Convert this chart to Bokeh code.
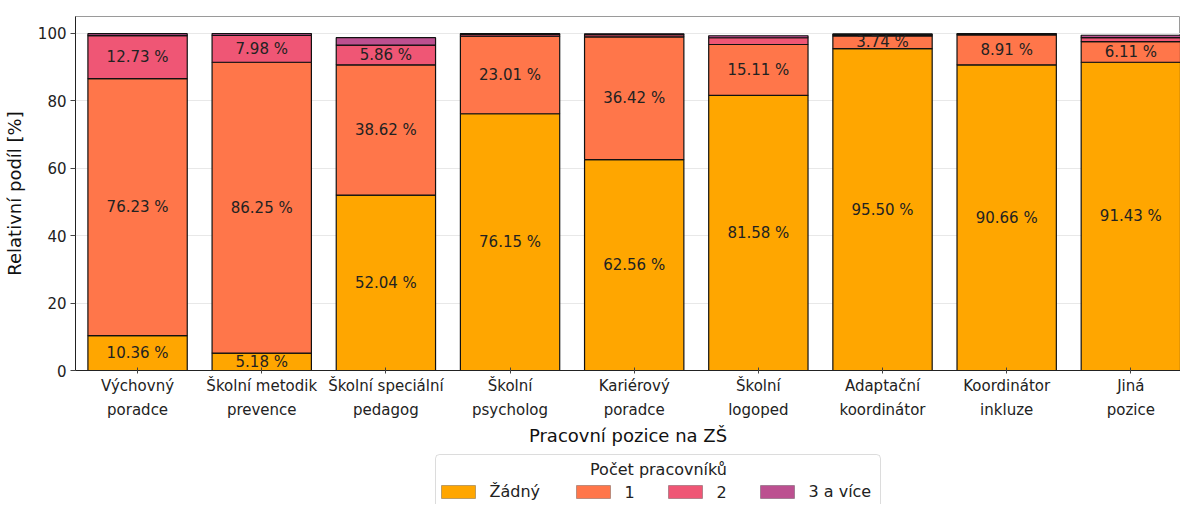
from bokeh.plotting import figure
from bokeh.models import (ColumnDataSource, FixedTicker, Range1d, BoxAnnotation, Label)
from bokeh.layouts import column
from bokeh.embed import file_html
from bokeh.resources import INLINE
from bokeh.core.properties import value

# ---- data ----
categories = ["Výchovný\nporadce", "Školní metodik\nprevence", "Školní speciální\npedagog",
              "Školní\npsycholog", "Kariérový\nporadce", "Školní\nlogoped",
              "Adaptační\nkoordinátor", "Koordinátor\ninkluze", "Jiná\npozice"]
zadny = [10.36, 5.18, 52.04, 76.15, 62.56, 81.58, 95.50, 90.66, 91.43]
jeden = [76.23, 86.25, 38.62, 23.01, 36.42, 15.11, 3.74, 8.91, 6.11]
dva = [12.73, 7.98, 5.86, 0.55, 0.60, 2.00, 0.40, 0.25, 1.20]
tri = [0.60, 0.55, 2.20, 0.20, 0.30, 0.60, 0.20, 0.10, 0.70]
series_names = ["Žádný", "1", "2", "3 a více"]
legend_title = "Počet pracovníků"
colors = ["#ffa600", "#ff764a", "#ef5675", "#bc5090"]
y_ticks = [0, 20, 40, 60, 80, 100]
label_min = 3.0

FONT = "DejaVu Sans"
W = 1180
xs = list(range(len(categories)))
keys = ["s0", "s1", "s2", "s3"]
series = [zadny, jeden, dva, tri]
src = ColumnDataSource(dict(x=xs, s0=zadny, s1=jeden, s2=dva, s3=tri))

# label positions (segment centers) computed from data
lx, ly, lt = [], [], []
for i in xs:
    bottom = 0.0
    for s in series:
        v = s[i]
        if v >= label_min:
            lx.append(i)
            ly.append(bottom + v / 2)
            lt.append(f"{v:.2f} %")
        bottom += v
lsrc = ColumnDataSource(dict(x=lx, y=ly, t=lt))

p = figure(width=W, height=448, output_backend="svg", toolbar_location=None,
           x_range=Range1d(-0.5, 8.4), y_range=Range1d(0, 105),
           min_border_left=67, min_border_top=16, min_border_right=0, min_border_bottom=78)

rs = p.vbar_stack(keys, x="x", width=0.8, source=src, color=colors,
                  line_color="#111111", line_width=1.2)

p.text(x="x", y="y", text="t", source=lsrc, text_align="center", text_baseline="middle",
       text_font_size="15px", text_color="#222222", text_font=value(FONT))

# axes
p.xaxis.ticker = FixedTicker(ticks=xs)
p.xaxis.major_label_overrides = {i: c for i, c in enumerate(categories)}
p.yaxis.ticker = FixedTicker(ticks=y_ticks)
for ax in (p.xaxis[0], p.yaxis[0]):
    ax.major_label_text_font = FONT
    ax.major_label_text_font_size = "15px"
    ax.major_label_text_color = "#222222"
    ax.axis_label_text_font = FONT
    ax.axis_label_text_font_size = "18px"
    ax.axis_label_text_font_style = "normal"
    ax.axis_label_text_color = "#111111"
    ax.axis_line_color = "#222222"
    ax.minor_tick_line_color = None
    ax.major_tick_line_color = "#444444"
p.xaxis.axis_label = "Pracovní pozice na ZŠ"
p.yaxis.axis_label = "Relativní podíl [%]"
p.xaxis.major_label_text_line_height = 1.35
p.xaxis.major_tick_in = 3
p.xaxis.major_tick_out = 3
p.xaxis.major_label_standoff = 3
p.xaxis.axis_label_standoff = 3
p.yaxis.major_tick_in = 0
p.yaxis.major_tick_out = 5
p.yaxis.major_label_standoff = 4
p.yaxis.axis_label_standoff = 10

p.xgrid.visible = False
p.ygrid.grid_line_color = "#e8e8e8"
p.outline_line_color = "#9a9a9a"
p.background_fill_color = "white"
p.border_fill_color = "white"

# ---- legend strip below the chart (layout in canvas pixels) ----
H2 = 56
q = figure(width=W, height=H2, output_backend="svg", toolbar_location=None,
           x_axis_type=None, y_axis_type=None, x_range=Range1d(0, 1), y_range=Range1d(0, 1),
           min_border=0, min_border_left=0, min_border_right=0,
           min_border_top=0, min_border_bottom=0)
q.grid.visible = False
q.outline_line_color = None
q.background_fill_color = "white"
q.border_fill_color = "white"

box_left, box_right, box_top = 435, 880, 6
title_cx, title_cy = 658, 21
swatch_x = [441, 576, 668, 760]     # left edge of each swatch
swatch_w, swatch_top, swatch_h = 34, 37, 13
text_gap = 14
row_cy = 43

q.add_layout(BoxAnnotation(left=box_left, right=box_right, top=box_top, bottom=200,
                           left_units="canvas", right_units="canvas", top_units="canvas",
                           bottom_units="canvas", fill_alpha=0, line_color="#8a8a8a",
                           line_width=1, border_radius=4))
q.add_layout(Label(x=title_cx, y=title_cy, x_units="canvas", y_units="canvas",
                   text=legend_title, text_align="center", text_baseline="middle",
                   text_font=FONT, text_font_size="16px", text_color="#222222"))
for name, col, sx in zip(series_names, colors, swatch_x):
    q.add_layout(BoxAnnotation(left=sx, right=sx + swatch_w, top=swatch_top,
                               bottom=swatch_top + swatch_h,
                               left_units="canvas", right_units="canvas", top_units="canvas",
                               bottom_units="canvas", fill_color=col, fill_alpha=1,
                               line_color="#222222", line_width=1))
    q.add_layout(Label(x=sx + swatch_w + text_gap, y=row_cy, x_units="canvas",
                       y_units="canvas", text=name, text_align="left",
                       text_baseline="middle", text_font=FONT, text_font_size="16px",
                       text_color="#222222"))

layout = column(p, q, spacing=0)
open("out.html", "w").write(file_html(layout, INLINE))
